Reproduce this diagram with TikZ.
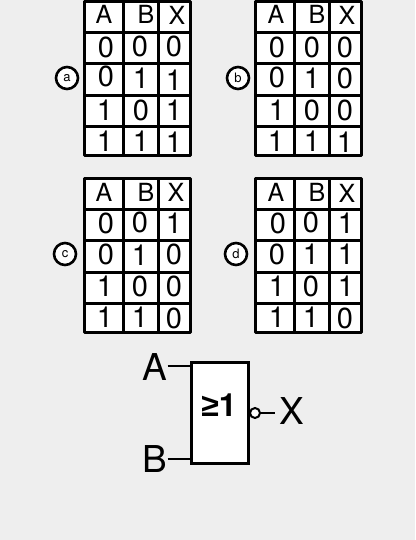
\documentclass[tikz,border=0pt]{standalone}
\usepackage{fontspec}
\setmainfont{TeX Gyre Heros}
\newfontfamily\symfont{Liberation Sans}
\definecolor{bgc}{HTML}{EEEEEE}
\tikzset{
  gridline/.style={line width=3pt,black},
  cellt/.style={inner sep=0pt,text height=18pt,text depth=0pt,font=\fontsize{25}{25}\selectfont},
  celld/.style={inner sep=0pt,text height=21pt,text depth=0pt,font=\fontsize{29}{29}\selectfont},
  tagc/.style={circle,draw=black,line width=2.6pt,fill=white,minimum size=22pt,inner sep=0pt,font=\fontsize{13}{13}\selectfont},
  wire/.style={line width=2.6pt,black},
  big/.style={inner sep=0pt,text height=26pt,text depth=0pt,font=\fontsize{37}{37}\selectfont},
}
\newcommand{\truthgrid}[3]{%
  \fill[white] (#1,#2) rectangle ++(106,#3);
  \draw[gridline,line cap=round,line join=round] (#1,#2) rectangle ++(106,#3);
  \foreach \dx in {39,73.5} \draw[gridline] (#1+\dx,#2) -- ++(0,#3);
  \foreach \dy in {31,62.5,94,125} \draw[gridline] (#1,#2+\dy) -- ++(106,0);
}
\begin{document}
\begin{tikzpicture}[x=1pt,y=-1pt]
\useasboundingbox (0,0) rectangle (415,540);
\fill[bgc] (0,0) rectangle (415,540);
\truthgrid{84.5}{1.5}{154}
\truthgrid{255.5}{1.5}{154}
\truthgrid{84.5}{178}{154}
\truthgrid{255.5}{178}{154}
\foreach \n/\x/\y/\t in {
 aA/104/15/A,aB/146/15/B,aX/177/16/X,
 bA/276/15/A,bB/317/15/B,bX/347/16/X,
 cA/104/192/A,cB/146/192/B,cX/176/192/X,
 dA/276/192/A,dB/317/192/B,dX/347/193/X}
  \node[cellt] (\n) at (\x,\y) {\t};
\foreach \n/\x/\y/\t in {
 a1/106/47/0,a2/140/46/0,a3/174/46/0,
 a4/106/76/0,a5/141/78/1,a6/174/80/1,
 a7/105/110/1,a8/141/110/0,a9/174/110/1,
 a10/105/141/1,a11/141/141/1,a12/174/142/1,
 b1/277/47/0,b2/312/47/0,b3/345/47/0,
 b4/277/77/0,b5/312/78/1,b6/345/78/0,
 b7/277/110/1,b8/312/110/0,b9/345/110/0,
 b10/276/141/1,b11/312/141/1,b12/345/142/1,
 c1/106/223/0,c2/140/222/0,c3/174/223/1,
 c4/106/254/0,c5/140/255/1,c6/174/254/0,
 c7/105/286/1,c8/140/286/0,c9/174/286/0,
 c10/105/317/1,c11/140/317/1,c12/174/318/0,
 d1/278/223/0,d2/311/222/0,d3/346/223/1,
 d4/277/254/0,d5/311/254/1,d6/346/254/1,
 d7/277/286/1,d8/311/286/0,d9/346/286/1,
 d10/277/317/1,d11/311/317/1,d12/345/318/0}
  \node[celld] (\n) at (\x,\y) {\t};
\node[tagc] (ta) at (67,78) {a};
\node[tagc] (tb) at (238,78) {b};
\node[tagc] (tc) at (65,254) {c};
\node[tagc] (td) at (236,254) {d};
% gate
\node[draw=black,line width=2.8pt,fill=white,minimum width=57pt,minimum height=101pt,inner sep=0pt,outer sep=0pt,anchor=north west] (gate) at (191.5,362.5) {};
\node[inner sep=0pt,font=\bfseries\fontsize{32}{32}\selectfont] (sym) at (219,405) {{\symfont ≥}1};
\node[big] (inA) at (155,367) {A};
\node[big] (inB) at (155,459) {B};
\node[big] (outX) at (292,411) {X};
\coordinate (xend) at (275,413);
\draw[wire] (inA.east |- 0,366) -- (gate.west |- 0,366);
\draw[wire] (inB.east |- 0,459) -- (gate.west |- 0,459);
\node[circle,draw=black,line width=2pt,fill=white,minimum size=10pt,inner sep=0pt] (bub) at (255,413) {};
\draw[wire] (bub) -- (xend);
\end{tikzpicture}
\end{document}
